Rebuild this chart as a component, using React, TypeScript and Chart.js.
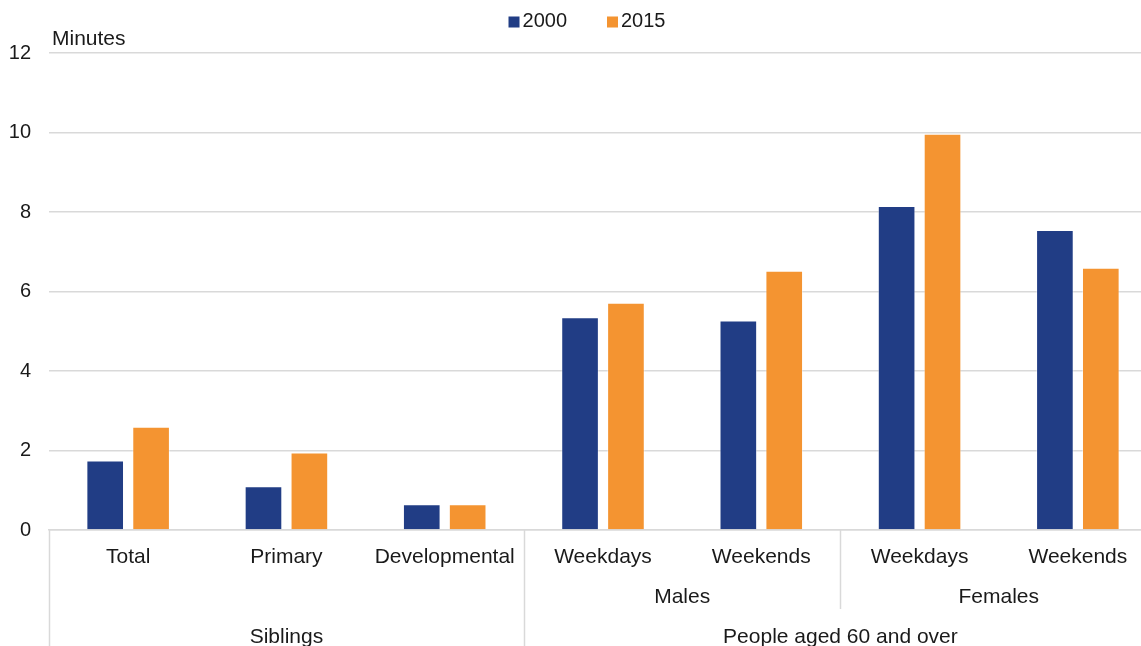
import React, { useEffect, useRef } from "react";
import { Chart, registerables } from "chart.js";

Chart.register(...registerables);

const categories = ["Total", "Primary", "Developmental", "Weekdays", "Weekends", "Weekdays", "Weekends"];
const subGroups = [
  { label: "Males", from: 3, to: 4 },
  { label: "Females", from: 5, to: 6 },
];
const topGroups = [
  { label: "Siblings", from: 0, to: 2 },
  { label: "People aged 60 and over", from: 3, to: 6 },
];
const series2000 = [1.75, 1.1, 0.65, 5.35, 5.27, 8.15, 7.55];
const series2015 = [2.6, 1.95, 0.65, 5.72, 6.52, 9.97, 6.6];
const seriesLabels = ["2000", "2015"];
const yTicks = [0, 2, 4, 6, 8, 10, 12];
const yUnit = "Minutes";

const NAVY = "#213D85";
const ORANGE = "#F49431";
const GRID = "#d9d9d9";
const TEXT = "#1a1a1a";
const FONT = "'Liberation Sans', Arial, sans-serif";

const multiLevelPlugin = {
  id: "multiLevel",
  afterDraw(chart: any) {
    const { ctx, chartArea, scales } = chart;
    const x = scales.x;
    const step = x.getPixelForValue(1) - x.getPixelForValue(0);
    const edge = (i: number) => x.getPixelForValue(i) - step / 2;
    const bottom = chart.height;
    ctx.save();
    // separators
    ctx.strokeStyle = GRID;
    ctx.lineWidth = 1.5;
    const vline = (px: number, y2: number) => {
      ctx.beginPath();
      ctx.moveTo(Math.round(px) + 0.5, chartArea.bottom);
      ctx.lineTo(Math.round(px) + 0.5, y2);
      ctx.stroke();
    };
    vline(chartArea.left, bottom);
    topGroups.forEach((g, i) => {
      if (i > 0) vline(edge(g.from), bottom);
    });
    subGroups.forEach((g, i) => {
      if (i > 0) vline(edge(g.from), chartArea.bottom + 79);
    });
    ctx.fillStyle = TEXT;
    ctx.font = `21px ${FONT}`;
    ctx.textAlign = "center";
    ctx.textBaseline = "alphabetic";
    categories.forEach((c, i) => {
      ctx.fillText(c, x.getPixelForValue(i), chartArea.bottom + 33);
    });
    subGroups.forEach((g) => {
      const cx = (edge(g.from) + edge(g.to + 1)) / 2;
      ctx.fillText(g.label, cx, chartArea.bottom + 73);
    });
    topGroups.forEach((g) => {
      const cx = (edge(g.from) + edge(g.to + 1)) / 2;
      ctx.fillText(g.label, cx, chartArea.bottom + 113);
    });
    // unit label
    ctx.textAlign = "left";
    ctx.fillText(yUnit, chartArea.left + 3, chartArea.top - 8);

    // legend
    ctx.font = `20px ${FONT}`;
    ctx.textBaseline = "middle";
    const box = 11;
    const gapText = 3;
    const gapItem = 40;
    const items = chart.data.datasets.map((d: any) => ({
      label: d.label,
      color: d.backgroundColor,
      w: box + gapText + ctx.measureText(d.label).width,
    }));
    const total = items.reduce((a: number, it: any) => a + it.w, 0) + gapItem * (items.length - 1);
    let lx = 587 - total / 2;
    const ly = 21;
    items.forEach((it: any) => {
      ctx.fillStyle = it.color;
      ctx.fillRect(lx, ly - box / 2 + 1, box, box);
      ctx.fillStyle = TEXT;
      ctx.fillText(it.label, lx + box + gapText, ly);
      lx += it.w + gapItem;
    });
    ctx.restore();
  },
};

export default function App() {
  const ref = useRef<HTMLCanvasElement | null>(null);
  useEffect(() => {
    if (!ref.current) return;
    const chart = new Chart(ref.current, {
      type: "bar",
      data: {
        labels: categories,
        datasets: [
          {
            label: seriesLabels[0],
            data: series2000,
            backgroundColor: NAVY,
            borderColor: "rgba(255,255,255,0.4)",
            borderWidth: 1,
          },
          {
            label: seriesLabels[1],
            data: series2015,
            backgroundColor: ORANGE,
            borderColor: "rgba(255,255,255,0.4)",
            borderWidth: 1,
          },
        ],
      },
      options: {
        responsive: false,
        animation: false,
        categoryPercentage: 0.58,
        barPercentage: 0.82,
        layout: { padding: { left: 0, right: 3, top: 53, bottom: 116 } },
        plugins: {
          legend: { display: false },
          tooltip: { enabled: false },
        },
        scales: {
          x: {
            ticks: { display: false },
            grid: { display: false, drawTicks: false },
            border: { display: true, color: GRID, width: 1.5 },
          },
          y: {
            min: 0,
            max: 12,
            afterBuildTicks: (s: any) => {
              s.ticks = yTicks.map((v) => ({ value: v }));
            },
            afterFit: (s: any) => {
              s.width = 49;
            },
            ticks: {
              padding: 18,
              color: TEXT,
              font: { size: 20, family: FONT },
            },
            grid: { color: GRID, lineWidth: 1.5, drawTicks: false },
            border: { display: false },
          },
        },
      },
      plugins: [multiLevelPlugin],
    });
    return () => chart.destroy();
  }, []);
  return (
    <div style={{ position: "fixed", left: 0, top: 0, width: 1141, height: 646, overflow: "hidden", background: "#fff" }}>
      <canvas ref={ref} width={1160} height={646} style={{ width: 1160, height: 646 }} />
    </div>
  );
}
